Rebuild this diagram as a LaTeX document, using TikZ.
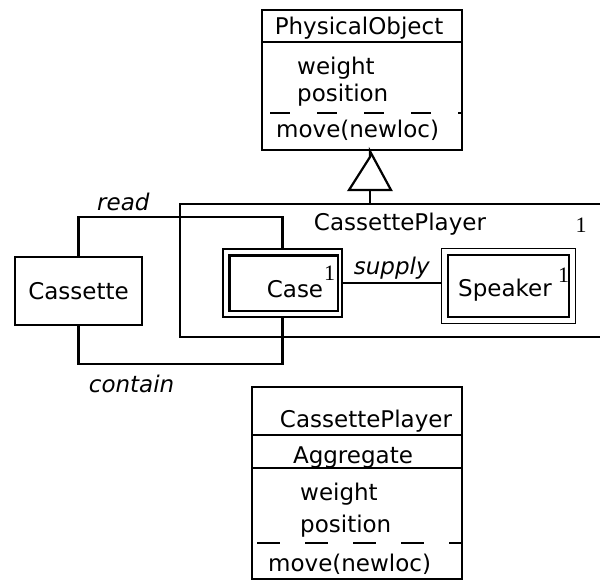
\documentclass[tikz,border=0pt]{standalone}
\usepackage{fontspec}
\setmainfont{DejaVu Sans}
\newfontfamily\multfont{Liberation Serif}
\usetikzlibrary{positioning,calc}
\tikzset{
  cls/.style={draw,line width=2.4pt,inner sep=0pt},
  part/.style={draw,line width=1.4pt,inner sep=0pt},
  partin/.style={line width=2.4pt},
  txt/.style={font=\fontsize{23}{27}\selectfont,inner sep=0pt},
  role/.style={font=\fontsize{23}{27}\selectfont\itshape},
  mult/.style={font=\multfont\fontsize{22}{26}\selectfont,inner sep=0pt},
  rel/.style={line width=2.2pt},
  sep/.style={line width=2pt},
}

\begin{document}
\begin{tikzpicture}[x=1pt,y=-1pt]
\useasboundingbox (0,0) rectangle (600,582);
% PhysicalObject
\node[cls,minimum width=200pt,minimum height=140pt] (po) at (362,80) {};
\node[txt,anchor=base] (poname) at (359,34) {PhysicalObject};
\node[txt,anchor=base west] (poweight) at (297,74) {weight};
\node[txt,anchor=base west] (popos) at (297,101) {position};
\node[txt,anchor=base west] (pomove) at (276,137) {move(newloc)};
\draw[sep] (262,42) -- (462,42);
\draw[sep,dash pattern=on 20pt off 27pt] (270,113) -- (462,113);
% generalisation
\coordinate (gtop) at (370,157);
\draw[rel] (gtop |- po.south) -- (gtop) -- ++(-21,33) -- ++(42,0) -- cycle;
\draw[rel] ($(gtop)+(0,33)$) -- (370,204);
% CassettePlayer with its parts
\draw[cls] (600,204) -- (180,204) -- (180,337) -- (600,337);
\node[txt,anchor=base] (cpname) at (400,230) {CassettePlayer};
\node[mult,anchor=base] (cpmult) at (581,232) {1};
\node[part,minimum width=119pt,minimum height=68pt] (case) at (282.5,283) {};
\draw[partin] ([shift={(7pt,-7pt)}]case.north west) rectangle ([shift={(-5pt,7pt)}]case.south east);
\node[txt,anchor=base] (casename) at (295,297) {Case};
\node[mult,anchor=base west] (casemult) at (324,280) {1};
\node[part,minimum width=134pt,minimum height=75pt] (speaker) at (508.5,286) {};
\draw[partin] ([shift={(7pt,-7pt)}]speaker.north west) rectangle ([shift={(-7pt,7pt)}]speaker.south east);
\node[txt,anchor=base] (speakername) at (505,296) {Speaker};
\node[mult,anchor=base west] (speakermult) at (558,282) {1};
\draw[rel] (case.east) -- (case.east -| speaker.west)
  node[role,midway,above=-1pt] (supply) {supply};
% Cassette
\node[cls,txt,minimum width=127pt,minimum height=68pt] (cassette) at (78.5,291) {Cassette};
\draw[rel] (cassette.north) -- ++(0,-39) -| node[role,pos=0.11,above=2pt] (read) {read} (case.north);
\draw[rel] (cassette.south) -- ++(0,38) -| node[role,pos=0.13,below=6pt] (contain) {contain} (case.south);
% CassettePlayer as aggregate
\node[cls,minimum width=210pt,minimum height=192pt] (agg) at (357,483) {};
\node[txt,anchor=base] (aggname) at (366,427) {CassettePlayer};
\draw[sep] (252,435) -- (462,435);
\node[txt,anchor=base] (aggkind) at (353,463) {Aggregate};
\draw[sep] (252,468) -- (462,468);
\node[txt,anchor=base west] (aggweight) at (300,500) {weight};
\node[txt,anchor=base west] (aggpos) at (300,532) {position};
\draw[sep,dash pattern=on 23pt off 25pt] (257,543) -- (462,543);
\node[txt,anchor=base west] (aggmove) at (268,571) {move(newloc)};
\end{tikzpicture}
\end{document}
